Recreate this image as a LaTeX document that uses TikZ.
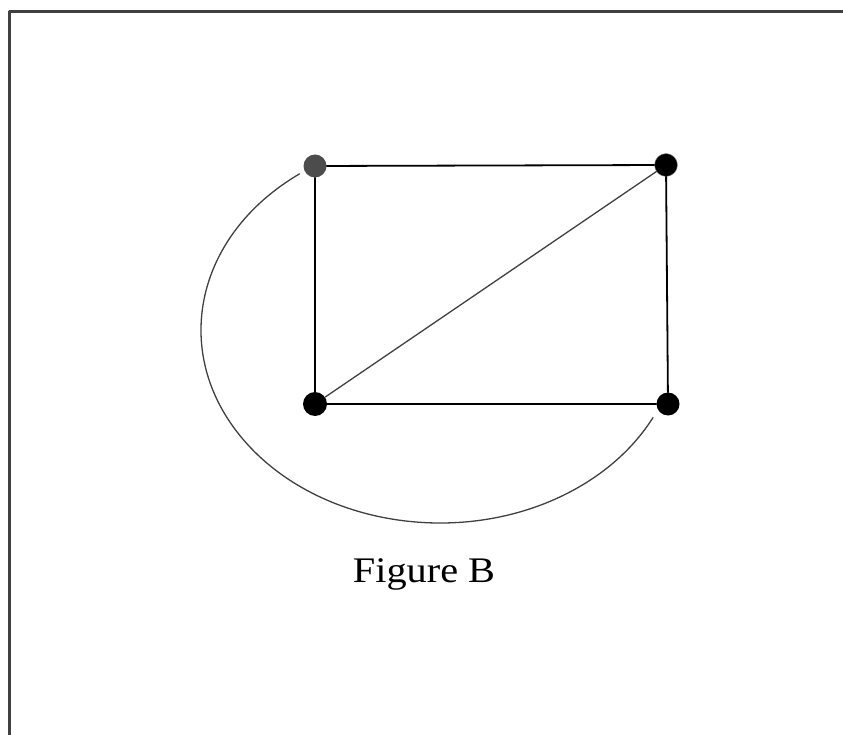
\documentclass[tikz,border=0pt]{standalone}
\usepackage{fontspec}
\setmainfont{Liberation Serif}
\begin{document}
\begin{tikzpicture}[x=1pt,y=-1pt, line join=round, line cap=round,
        vertex/.style={circle,fill=black,inner sep=0pt,minimum size=23pt},
        edge/.style={line width=1.8pt},
        thinedge/.style={line width=1.3pt,color=black!75}]
        \def\xmax{843} \def\ymax{735}
        \useasboundingbox (0,0) rectangle (\xmax,\ymax);
        \draw[line width=3pt,color=black!75,line cap=butt] (9,\ymax)--(9,12)--(\xmax,12);
        \node[vertex,fill=black!70] (tl) at (315,166) {};
        \node[vertex,draw=black!40] (tr) at (666,165) {};
        \node[vertex,minimum size=24pt] (bl) at (315,404) {};
        \node[vertex] (br) at (668,404) {};
        \draw[edge] (tl)--(tr)--(br)--(bl)--(tl);
        \draw[thinedge] (bl)--(tr);
        \coordinate (ellc) at (440,330);
        \draw[thinedge] ([shift={(234:239 and 193)}]ellc) arc[start angle=234,end angle=27,x radius=239,y radius=193];
        \node[anchor=base] (cap) at (424,582) {\fontsize{36}{42}\selectfont\scalebox{1.12}[1]{Figure B}};
\end{tikzpicture}
\end{document}
